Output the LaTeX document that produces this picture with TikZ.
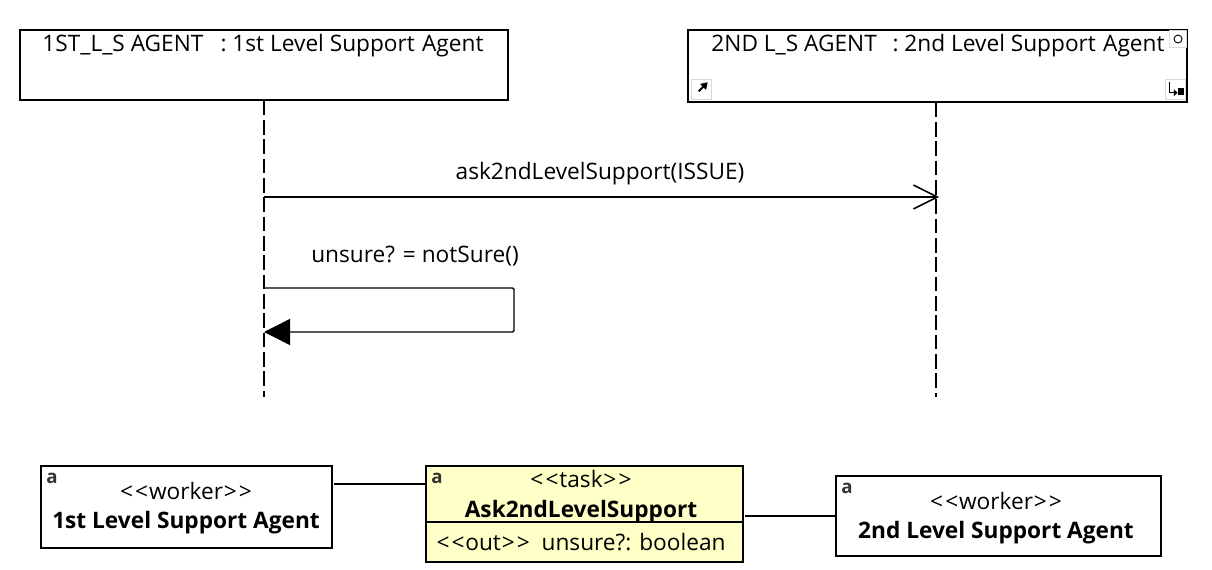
\documentclass[tikz,border=0pt]{standalone}
\usepackage{fontspec}
\setmainfont[Ligatures=TeXOff]{Open Sans}
\usepackage{tikz}
\usetikzlibrary{arrows.meta, positioning}
\definecolor{taskyellow}{HTML}{FFFFC8}
\newcommand{\stereo}[1]{<\kern1.6pt<\kern0.6pt#1\kern0.6pt>\kern1.6pt>}

\begin{document}
\begin{tikzpicture}[
    x=0.75pt, y=-0.75pt,
    box/.style={rectangle, draw, line width=1.1pt, inner sep=0pt},
    taskbox/.style={box, fill=taskyellow},
    label/.style={font=\fontsize{17}{21}\selectfont, inner sep=0pt, align=center},
    badge/.style={font=\bfseries\fontsize{14}{14}\selectfont, inner sep=0pt, text=black!80},
    icon/.style={rectangle, draw=black!15, fill=white, minimum size=15pt, inner sep=0pt},
    wire/.style={line width=1.1pt},
    lifeline/.style={line width=1.1pt, dash pattern=on 11pt off 3.5pt},
    openarrow/.style={wire, -{Straight Barb[length=18pt, width=18pt, line width=1.1pt]}},
    fullarrow/.style={wire, -{Triangle[length=19.5pt, width=19.5pt]}}
]
    \useasboundingbox (0,0) rectangle (1212,570);

    % Lifeline heads
    \node[box, minimum width=366pt, minimum height=52.5pt] at (264,65) (head1) {};
    \node[box, minimum width=374.25pt, minimum height=54pt] at (937.5,66) (head2) {};
    \node[label] at (263,46) (head1text) {1ST\_L\_S AGENT~~\hspace{4pt}: 1st Level Support\hspace{1pt} Agent};
    \node[label] at (938,46) (head2text) {2ND L\_S AGENT~~\hspace{3pt}: 2nd Level Support\hspace{1pt} Agent};

    % Head icons
    \node[icon, minimum size=13pt] at (1178,39) (iconzoom) {};
    \draw[line width=0.7pt] (iconzoom.center) circle (3pt);
    \node[icon] at (701,89) (iconlink) {};
    \draw[-{Triangle[length=5pt, width=6pt]}, line width=1.4pt] (iconlink.south west) ++(8,-8) -- ++(9,-9);
    \node[icon] at (1175,89) (iconsub) {};
    \draw[-{Triangle[length=3pt, width=5pt]}, line width=0.9pt] (iconsub.north west) ++(5,3) |- ++(8,11);
    \fill (iconsub.south east) ++(-7,-4) rectangle ++(6,-7);

    % Lifelines
    \coordinate (end1) at (264,397);
    \coordinate (end2) at (936,397);
    \coordinate (m1start) at (264,197);
    \coordinate (m1end) at (939,197);
    \coordinate (m2start) at (264,288);
    \coordinate (m2turn1) at (514,288);
    \coordinate (m2turn2) at (514,332);
    \coordinate (m2end) at (264,332);
    \draw[lifeline] (head1.south -| end1) -- (end1);
    \draw[lifeline] (head2.south -| end2) -- (end2);

    % Messages
    \draw[openarrow] (m1start) -- (m1end);
    \node[label] at (600,174) (m1text) {ask2ndLevelSupport(ISSUE)};
    \draw[fullarrow, rounded corners=1pt] (m2start) -- (m2turn1) -- (m2turn2) -- (m2end);
    \node[label] at (415,256) (m2text) {unsure? = notSure()};

    % Classes
    \node[box, minimum width=218.25pt, minimum height=61.5pt] at (186.5,507) (worker1) {};
    \node[taskbox, minimum width=237.75pt, minimum height=72pt] at (584.5,514) (task) {};
    \node[box, minimum width=243.75pt, minimum height=60pt] at (998.5,516) (worker2) {};

    \node[label] at (186,508) (worker1text) {\stereo{worker}\\[1pt]\textbf{1st Level Support Agent}};
    \node[label] at (581,496.5) (tasktext) {\stereo{task}\\[1pt]\textbf{Ask2ndLevelSupport}};
    \node[label] at (581,542) (outtext) {\stereo{out}~~unsure?: boolean};
    \node[label] at (996,518) (worker2text) {\stereo{worker}\\[1pt]\textbf{2nd Level Support Agent}};
    \draw[wire] (task.west |- 0,522) -- (task.east |- 0,522);

    \node[badge] at (52,478) (badge1) {a};
    \node[badge] at (437,478) (badge2) {a};
    \node[badge] at (847,488) (badge3) {a};

    % Connections
    \coordinate (w1out) at (334,484);
    \coordinate (w2out) at (745,516);
    \draw[wire] (w1out) -- (task.west |- w1out);
    \draw[wire] (w2out) -- (worker2.west |- w2out);
\end{tikzpicture}
\end{document}
